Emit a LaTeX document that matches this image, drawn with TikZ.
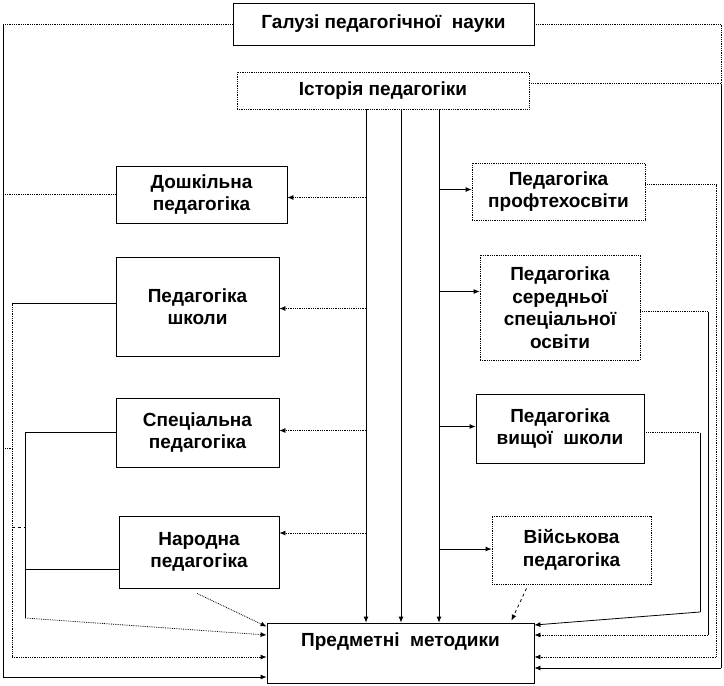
\documentclass[tikz,border=0pt]{standalone}
\usepackage{fontspec}
\setmainfont{Liberation Sans}
\usetikzlibrary{arrows.meta}

\begin{document}
\begin{tikzpicture}[x=1pt, y=-1pt, line width=0.8pt,
        box/.style={draw, align=center, inner sep=0pt,
            font=\bfseries\fontsize{19}{22.5}\selectfont},
        dbox/.style={box, densely dotted},
        arr/.style={-{Latex[length=6pt,width=5pt]}},
        dots/.style={densely dotted}]
        \useasboundingbox (0,0) rectangle (724,686);

        \node[box, minimum width=301pt, minimum height=42pt] (galuzi) at (383.5,24) {Галузі педагогічної~ науки};
        \node[dbox, minimum width=292pt, minimum height=37pt] (istoria) at (383,90.5) {Історія педагогіки};

        \node[box, minimum width=171pt, minimum height=57pt] (doshk) at (201.5,194.5) {Дошкільна\\педагогіка};
        \node[box, minimum width=163pt, minimum height=99pt] (shkoly) at (197.5,306.5) {Педагогіка\\школи};
        \node[box, minimum width=163pt, minimum height=69pt] (spec) at (197.5,432.5) {Спеціальна\\педагогіка};
        \node[box, minimum width=160pt, minimum height=72pt] (narod) at (199,552) {Народна\\педагогіка};

        \node[dbox, minimum width=173pt, minimum height=57pt] (proft) at (558.5,191.5) {Педагогіка\\профтехосвіти};
        \node[dbox, minimum width=160pt, minimum height=105pt] (seredn) at (560,307.5) {Педагогіка\\середньої\\спеціальної\\освіти};
        \node[box, minimum width=168pt, minimum height=69pt] (vyshch) at (560,428.5) {Педагогіка\\вищої~ школи};
        \node[dbox, minimum width=159pt, minimum height=68pt] (viysk) at (571.5,550) {Військова\\педагогіка};

        \node[box, minimum width=267pt, minimum height=60pt, text height=14pt, text depth=28pt] (predm) at (400.5,653) {Предметні~ методики};

        % from history down
        \foreach \x [count=\i] in {366,401,439}
        {
            \coordinate (v\i) at (\x,0);
            \draw[arr] (istoria.south -| v\i) -- (predm.north -| v\i);
        }
        \foreach \n/\s in {doshk/-3, shkoly/-2, spec/2, narod/19}
        {
            \coordinate (\n-in) at ([yshift=\s pt]\n.east);
            \draw[arr, dots] (\n-in -| v1) -- (\n-in);
        }
        \foreach \n/\s in {proft/2, seredn/16, vyshch/2, viysk/1}
        {
            \coordinate (\n-in) at ([yshift=\s pt]\n.west);
            \draw[arr] (\n-in -| v3) -- (\n-in);
        }

        % left side
        \coordinate (lA) at (3,677);
        \coordinate (lB) at (12,657);
        \coordinate (lC) at (25,618);
        \draw[dots] (galuzi.west) -- (galuzi.west -| lA);
        \draw (galuzi.west -| lA) -- (lA);
        \draw[arr] (lA) -- (lA -| predm.west);
        \draw[dots] (doshk.west) -- (doshk.west -| lA);

        \coordinate (shkoly-out) at ([yshift=3pt]shkoly.west);
        \draw (shkoly-out) -- (shkoly-out -| lB);
        \draw[dots] (shkoly-out -| lB) -- (lB);
        \draw[arr, dots] (lB) -- (lB -| predm.west);

        \draw (spec.west) -- (spec.west -| lC);
        \draw (spec.west -| lC) -- (lC);
        \draw[arr, dots] (lC) -- ([yshift=18pt]predm.west);
        \coordinate (narod-out) at ([yshift=-17pt]narod.west);
        \draw (narod-out) -- (narod-out -| lC);
        \draw[dots] (5,448) -- (12,448);
        \draw[dashed] (12,527) -- (25,527);

        \draw[arr, dots] ([xshift=-2pt, yshift=-5pt]narod.south) -- ([yshift=-4pt]predm.north west);
        \draw[arr, dashed] ([xshift=-45pt, yshift=-4pt]viysk.south) -- ([xshift=-23pt, yshift=2pt]predm.north east);

        % right side
        \coordinate (rA) at (721,668);
        \coordinate (rB) at (716,657);
        \coordinate (rC) at (708,635);
        \coordinate (rD) at (700,612);
        \coordinate (istoria-out) at ([yshift=7pt]istoria.east);
        \draw[dots] (galuzi.east) -- (galuzi.east -| rA) -- (istoria-out -| rA);
        \draw[dots] (istoria-out) -- (istoria-out -| rA);
        \draw (istoria-out -| rA) -- (rA);
        \draw[arr] (rA) -- (rA -| predm.east);

        \coordinate (proft-out) at ([yshift=7pt]proft.east);
        \draw[dots] (proft-out) -- (proft-out -| rB) -- (rB);
        \draw[arr, dots] (rB) -- (rB -| predm.east);

        \coordinate (seredn-out) at ([yshift=-4pt]seredn.east);
        \draw[dots] (seredn-out) -- (seredn-out -| rC);
        \draw (seredn-out -| rC) -- (rC);
        \draw[arr, dots] (rC) -- (rC -| predm.east);

        \coordinate (vyshch-out) at ([yshift=-4pt]vyshch.east);
        \draw[dots] (vyshch-out) -- (vyshch-out -| rD);
        \draw (vyshch-out -| rD) -- (rD);
        \draw[arr] (rD) -- ([yshift=28pt]predm.east);
    \end{tikzpicture}
\end{document}
